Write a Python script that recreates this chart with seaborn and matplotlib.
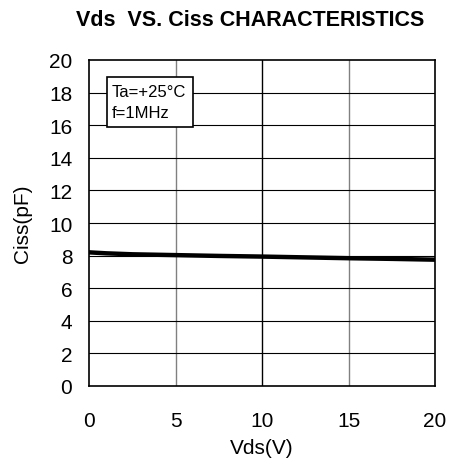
import matplotlib
matplotlib.use("Agg")
import matplotlib.pyplot as plt
import matplotlib.patches as mpatches
import seaborn as sns
import pandas as pd

vds = [0, 1, 2.5, 5, 7.5, 10, 12.5, 15, 17.5, 20]
ciss = [8.20, 8.14, 8.08, 8.03, 7.98, 7.94, 7.89, 7.84, 7.80, 7.75]
x_ticks = [0, 5, 10, 15, 20]
y_ticks = [0, 2, 4, 6, 8, 10, 12, 14, 16, 18, 20]
note_lines = ["Ta=+25°C", "f=1MHz"]

sns.set_style("white")
plt.rcParams['font.family'] = ['Liberation Sans', 'DejaVu Sans']
plt.rcParams['text.color'] = 'black'
plt.rcParams['axes.labelcolor'] = 'black'
plt.rcParams['xtick.color'] = 'black'
plt.rcParams['ytick.color'] = 'black'

fig = plt.figure(figsize=(4.51, 4.64), dpi=100)
ax = fig.add_axes([89/451, 1-387/464, (435-89)/451, (387-61)/464])

df = pd.DataFrame({"Vds": vds, "Ciss": ciss})

# grid
for xv in x_ticks[1:-1]:
    ax.axvline(xv, color="#808080" if xv != 10 else "black", lw=1.0, zorder=1)
for yv in y_ticks[1:-1]:
    ax.axhline(yv, color="black", lw=0.8, zorder=1)

sns.lineplot(data=df, x="Vds", y="Ciss", ax=ax, color="black", lw=3.2,
             solid_capstyle="round", zorder=3)

ax.set_xlim(0, 20)
ax.set_ylim(0, 20)
ax.set_xticks(x_ticks)
ax.set_yticks(y_ticks)
ax.tick_params(axis="both", length=0, labelsize=15)
ax.tick_params(axis="x", pad=18)
ax.tick_params(axis="y", pad=12)
for s in ax.spines.values():
    s.set_color("black")
    s.set_linewidth(1.2)

ax.set_xlabel("Vds(V)", fontsize=15, labelpad=6)
ax.set_ylabel("Ciss(pF)", fontsize=15, labelpad=12)

fig.text(250/451, 1-20/464, "Vds  VS. Ciss CHARACTERISTICS", ha="center", va="center",
         fontsize=15.5, fontweight="bold")

box = mpatches.Rectangle((0.052, 0.794), 0.249, 0.154, transform=ax.transAxes,
                         facecolor="white", edgecolor="black", lw=1.2, zorder=5)
ax.add_patch(box)
ax.text(0.0665, 0.8896, note_lines[0], transform=ax.transAxes, fontsize=12,
        va="baseline", ha="left", zorder=6)
ax.text(0.0665, 0.825, note_lines[1], transform=ax.transAxes, fontsize=12,
        va="baseline", ha="left", zorder=6)

fig.savefig("out.png", dpi=100)
